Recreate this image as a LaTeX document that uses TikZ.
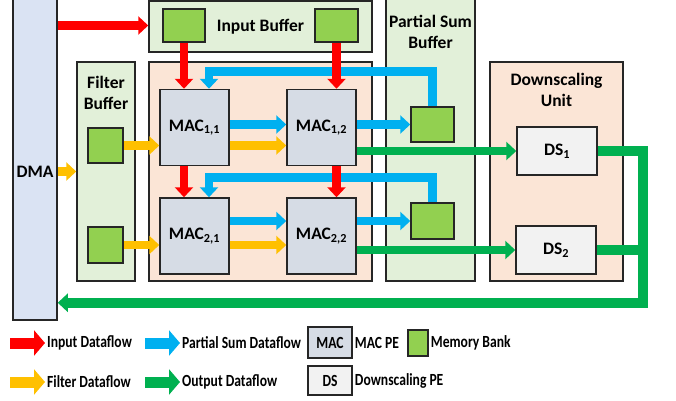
\documentclass[tikz,border=0pt]{standalone}
\usepackage{fontspec}
\setmainfont{Carlito}
\usetikzlibrary{arrows.meta,calc,positioning}

\definecolor{inred}{HTML}{FF0000}
\definecolor{psblue}{HTML}{00B0F0}
\definecolor{filtyel}{HTML}{FFC000}
\definecolor{outgreen}{HTML}{00B050}
\definecolor{bankgreen}{HTML}{92D050}
\definecolor{dmablue}{HTML}{DAE3F3}
\definecolor{bufgreen}{HTML}{E2F0D9}
\definecolor{peach}{HTML}{FBE5D6}
\definecolor{macgray}{HTML}{D6DCE5}
\definecolor{dsgray}{HTML}{F2F2F2}
\definecolor{edge}{HTML}{262626}

\tikzstyle{every node}+=[inner sep=0pt,font=\bfseries\fontsize{17.5}{21}\selectfont]
\tikzstyle{box}=[rectangle,draw=edge,line width=1.5pt]
\tikzstyle{bank}=[box,fill=bankgreen]
\tikzstyle{mac}=[box,fill=macgray,minimum width=69pt,minimum height=76pt]
\tikzstyle{ds}=[box,fill=dsgray,minimum width=80pt,minimum height=48pt]
\tikzstyle{flow}=[line width=8.5pt,-{Triangle[length=10pt,width=18pt]}]
\tikzstyle{legflow}=[line width=11pt,-{Triangle[length=11pt,width=25pt]}]
\tikzstyle{legtext}=[inner sep=2pt,font=\bfseries\fontsize{13.6}{16}\selectfont]
\newcommand{\legtxt}[1]{\scalebox{1}[1.25]{#1}}

\begin{document}
\begin{tikzpicture}[x=1pt,y=-1pt]
\useasboundingbox (0,0) rectangle (676,400);
% big blocks
\node[box,fill=dmablue,minimum width=44pt,minimum height=324pt] (dma) at (35,158) {};
\node (dmalbl) at (35,172) {DMA};
\node[box,fill=bufgreen,minimum width=223pt,minimum height=51pt] (ib) at (260.5,26.5) {Input Buffer};
\node[box,fill=bufgreen,minimum width=58pt,minimum height=219pt] (fb) at (106,171.5) {};
\node[align=center] (fblbl) at (106,93) {Filter\\Buffer};
\node[box,fill=peach,minimum width=223pt,minimum height=219pt] (arr) at (260.5,171.5) {};
\node[box,fill=bufgreen,minimum width=89pt,minimum height=284pt] (psb) at (430.5,139) {};
\node[align=center] (psblbl) at (430.5,31.5) {Partial Sum\\Buffer};
\node[box,fill=peach,minimum width=133pt,minimum height=219pt] (dsu) at (556.5,171.5) {};
\node[align=center] (dsulbl) at (556.5,90) {Downscaling\\Unit};

% memory banks
\node[bank,minimum width=42pt,minimum height=33pt] (ib1) at (184,25.5) {};
\node[bank,minimum width=43pt,minimum height=33pt] (ib2) at (336.5,25.5) {};
\node[bank,minimum width=35pt,minimum height=35pt] (fb1) at (105.5,145.5) {};
\node[bank,minimum width=35pt,minimum height=36pt] (fb2) at (105.5,245) {};
\node[bank,minimum width=43pt,minimum height=35pt] (psb1) at (432.5,124.5) {};
\node[bank,minimum width=43pt,minimum height=36pt] (psb2) at (432.5,221) {};

% PEs
\node[mac] (mac11) at (194.5,127.5) {MAC\textsubscript{1,1}};
\node[mac] (mac12) at (321.5,127.5) {MAC\textsubscript{1,2}};
\node[mac] (mac21) at (194.5,236) {MAC\textsubscript{2,1}};
\node[mac] (mac22) at (321.5,236) {MAC\textsubscript{2,2}};
\node[ds] (ds1) at (557,151) {DS\textsubscript{1}};
\node[ds] (ds2) at (556,250) {DS\textsubscript{2}};

\coordinate (ps11) at ($(mac11.north)+(14.5,-17.5)$);
\coordinate (ps21) at ($(mac21.north)+(14.5,-20)$);
\coordinate (ret) at ($(dsu.south east)+(19,21)$);

% partial sums
\draw[flow,psblue] (psb1.north) |- (ps11) -- (ps11 |- mac11.north);
\draw[flow,psblue] (psb2.north) |- (ps21) -- (ps21 |- mac21.north);
\draw[flow,psblue] (mac11.east |- psb1) -- (mac12.west |- psb1);
\draw[flow,psblue] (mac12.east |- psb1) -- (psb1.west);
\draw[flow,psblue] (mac21.east |- psb2) -- (mac22.west |- psb2);
\draw[flow,psblue] (mac22.east |- psb2) -- (psb2.west);

% inputs
\draw[flow,inred] (dma.east |- ib1) -- (ib.west |- ib1);
\draw[flow,inred] (ib1.south) -- (ib1.south |- mac11.north);
\draw[flow,inred] (ib2.south) -- (ib2.south |- mac12.north);
\draw[flow,inred] (ib1.south |- mac11.south) -- (ib1.south |- mac21.north);
\draw[flow,inred] (ib2.south |- mac12.south) -- (ib2.south |- mac22.north);

% filters
\draw[flow,filtyel] (dma.east |- fb) -- (fb.west);
\draw[flow,filtyel] (fb1.east) -- (mac11.west |- fb1);
\draw[flow,filtyel] (fb2.east) -- (mac21.west |- fb2);
\draw[flow,filtyel] (mac11.east |- fb1) -- (mac12.west |- fb1);
\draw[flow,filtyel] (mac21.east |- fb2) -- (mac22.west |- fb2);

% outputs
\draw[flow,outgreen] (mac12.east |- ds1) -- (ds1.west);
\draw[flow,outgreen] (mac22.east |- ds2) -- (ds2.west);
\draw[line width=10pt,outgreen] (ds2.east) -- (ds2.east -| ret);
\draw[flow,line width=10pt,outgreen] (ds1.east) -| (ret) -- (dma.east |- ret);

% legend
\coordinate (k1) at (10,343);
\coordinate (k2) at (145,343);
\coordinate (k3) at (10,382);
\coordinate (k4) at (145,382);
\node[legtext,anchor=west,right=35pt of k1] (k1t) {\legtxt{Input Dataflow}};
\node[legtext,anchor=west,right=35pt of k2] (k2t) {\legtxt{Partial Sum Dataflow}};
\node[legtext,anchor=west,right=35pt of k3] (k3t) {\legtxt{Filter Dataflow}};
\node[legtext,anchor=west,right=35pt of k4] (k4t) {\legtxt{Output Dataflow}};
\draw[legflow,inred] (k1) -- (k1t.west);
\draw[legflow,psblue] (k2) -- (k2t.west);
\draw[legflow,filtyel] (k3) -- (k3t.west);
\draw[legflow,outgreen] (k4) -- (k4t.west);
\node[mac,legtext,minimum width=44pt,minimum height=31pt] (kmac) at (330,342.5) {\legtxt{MAC}};
\node[legtext,right=0pt of kmac] (kmact) {\legtxt{MAC PE}};
\node[bank,minimum width=20pt,minimum height=26pt] (kbank) at (418,343) {};
\node[legtext,right=0pt of kbank] (kbankt) {\legtxt{Memory Bank}};
\node[ds,legtext,minimum width=44pt,minimum height=29pt] (kds) at (330,380.5) {\legtxt{DS}};
\node[legtext,right=0pt of kds] (kdst) {\legtxt{Downscaling PE}};
\end{tikzpicture}
\end{document}
